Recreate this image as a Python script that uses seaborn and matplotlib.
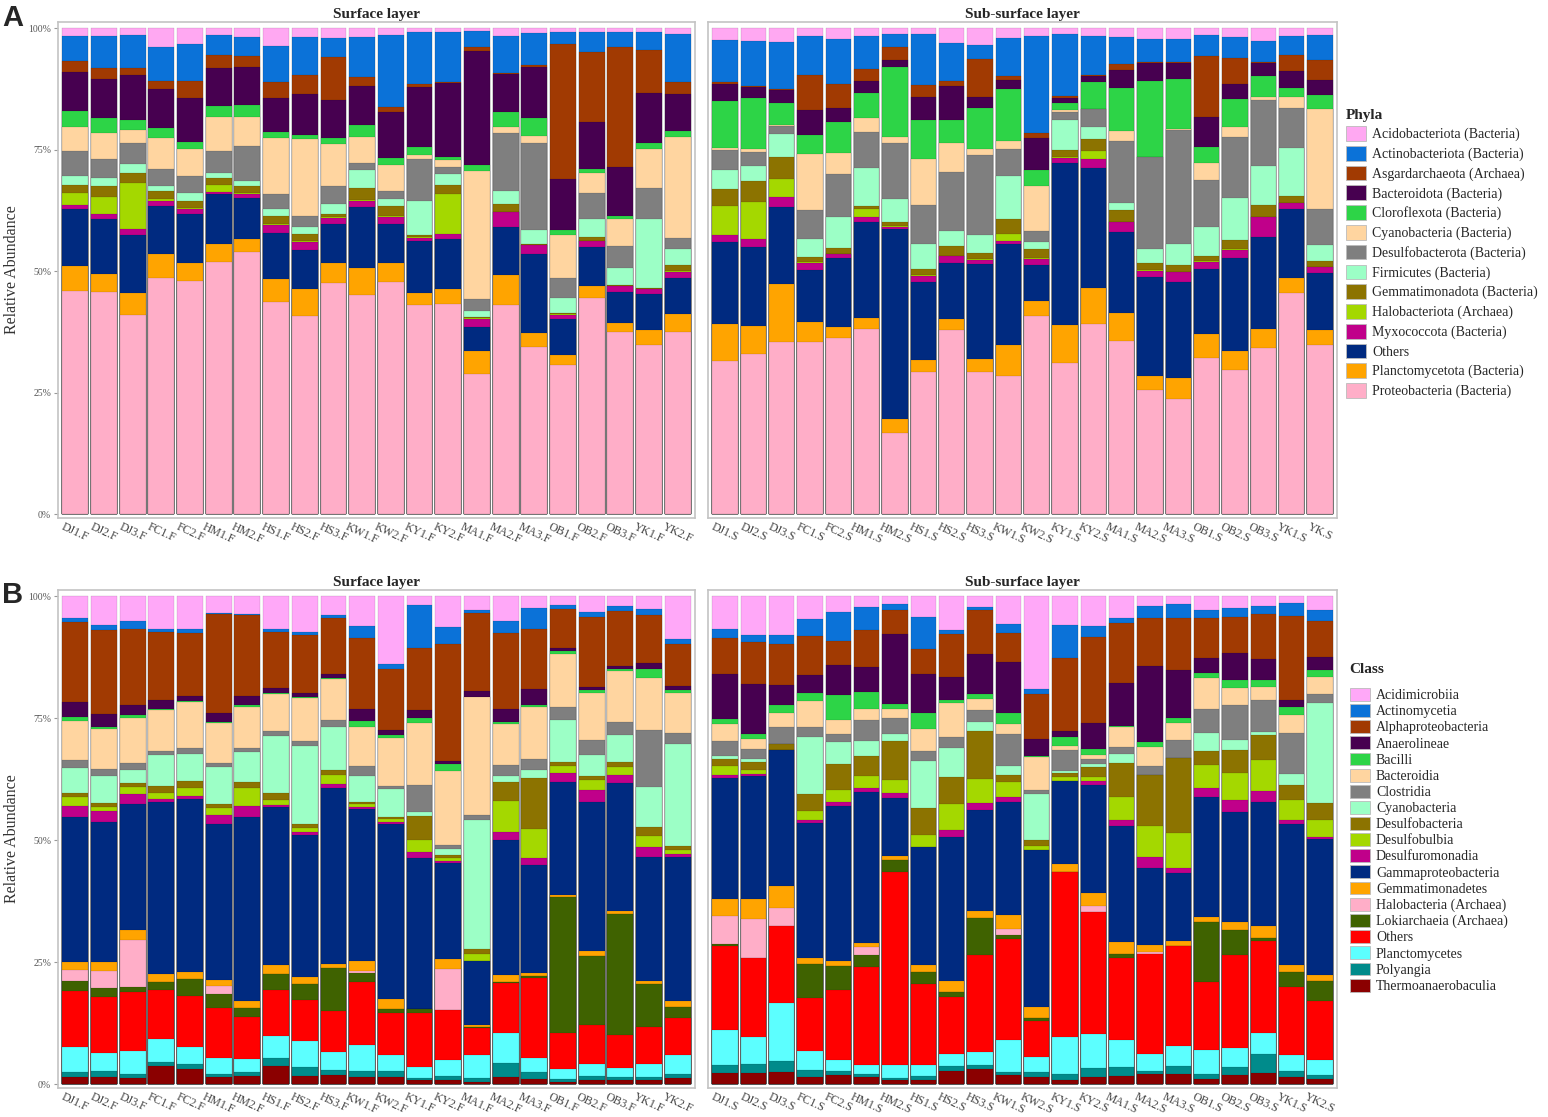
import numpy as np
import pandas as pd
import matplotlib
matplotlib.use("Agg")
import matplotlib.pyplot as plt
import seaborn as sns
from matplotlib.patches import Patch

# ---------------- labels ----------------
surface_labels = ["DJ1.F", "DJ2.F", "DJ3.F", "FC1.F", "FC2.F", "HM1.F", "HM2.F", "HS1.F", "HS2.F", "HS3.F", "KW1.F",
                  "KW2.F", "KY1.F", "KY2.F", "MA1.F", "MA2.F", "MA3.F", "OB1.F", "OB2.F", "OB3.F", "YK1.F", "YK2.F"]
subsurface_labels_A = ["DJ1.S", "DJ2.S", "DJ3.S", "FC1.S", "FC2.S", "HM1.S", "HM2.S", "HS1.S", "HS2.S", "HS3.S", "KW1.S",
                       "KW2.S", "KY1.S", "KY2.S", "MA1.S", "MA2.S", "MA3.S", "OB1.S", "OB2.S", "OB3.S", "YK1.S", "YK.S"]
subsurface_labels_B = ["DJ1.S", "DJ2.S", "DJ3.S", "FC1.S", "FC2.S", "HM1.S", "HM2.S", "HS1.S", "HS2.S", "HS3.S", "KW1.S",
                       "KW2.S", "KY1.S", "KY2.S", "MA1.S", "MA2.S", "MA3.S", "OB1.S", "OB2.S", "OB3.S", "YK1.S", "YK2.S"]

# legend order (top of stack first)
phyla = ["Acidobacteriota (Bacteria)", "Actinobacteriota (Bacteria)", "Asgardarchaeota (Archaea)",
         "Bacteroidota (Bacteria)", "Cloroflexota (Bacteria)", "Cyanobacteria (Bacteria)",
         "Desulfobacterota (Bacteria)", "Firmicutes (Bacteria)", "Gemmatimonadota (Bacteria)",
         "Halobacteriota (Archaea)", "Myxococcota (Bacteria)", "Others", "Planctomycetota (Bacteria)",
         "Proteobacteria (Bacteria)"]
phyla_colors = ["#FFA8F2", "#0B72D8", "#A13A02", "#470050", "#2DD447", "#FFD5A0", "#7F7F7F",
                "#9CFFC6", "#8C7300", "#A4D800", "#C0008A", "#002A80", "#FFA400", "#FFAEC8"]

classes = ["Acidimicrobiia", "Actinomycetia", "Alphaproteobacteria", "Anaerolineae", "Bacilli", "Bacteroidia",
           "Clostridia", "Cyanobacteria", "Desulfobacteria", "Desulfobulbia", "Desulfuromonadia",
           "Gammaproteobacteria", "Gemmatimonadetes", "Halobacteria (Archaea)", "Lokiarchaeia (Archaea)",
           "Others", "Planctomycetes", "Polyangia", "Thermoanaerobaculia"]
class_colors = ["#FFA8F8", "#0B72D8", "#A13A02", "#470050", "#2DD447", "#FFD5A0", "#7F7F7F", "#9CFFC6",
                "#8C7300", "#A4D800", "#C0008A", "#002A80", "#FFA400", "#FFAEC8", "#3F6200", "#FF0000",
                "#5CFFFF", "#008B8B", "#8B0000"]

# ---------------- data (rows = samples, values bottom -> top of stack) ----------------
phyla_surface = [
    [45.8, 5.2, 11.7, 0.9, 2.4, 1.6, 2.0, 5.0, 5.1, 3.1, 8.2, 2.2, 5.2, 1.5],
    [45.7, 3.8, 11.3, 1.0, 3.5, 2.2, 1.7, 4.0, 5.2, 3.1, 8.0, 2.3, 6.7, 1.5],
    [41.0, 4.5, 12.0, 1.1, 9.6, 2.0, 1.9, 4.3, 2.7, 2.1, 9.2, 1.4, 6.8, 1.4],
    [48.8, 5.0, 9.8, 1.1, 0.3, 1.7, 1.1, 3.4, 6.4, 2.2, 8.0, 1.7, 7.0, 3.8],
    [48.1, 3.6, 10.1, 1.2, 0.2, 1.4, 1.7, 3.4, 5.6, 1.5, 9.0, 3.6, 7.6, 3.2],
    [51.9, 3.6, 10.3, 0.6, 1.3, 1.5, 1.0, 4.5, 7.1, 2.3, 7.8, 2.6, 4.1, 1.4],
    [54.1, 2.7, 8.4, 0.9, 0.2, 1.4, 1.0, 7.3, 5.9, 2.4, 8.0, 2.1, 4.1, 1.7],
    [43.8, 4.6, 9.5, 1.7, 0.2, 1.7, 1.4, 3.2, 11.4, 1.3, 7.0, 3.4, 7.4, 3.6],
    [40.8, 5.6, 8.1, 1.7, 0.2, 1.3, 1.6, 2.2, 15.8, 0.8, 8.6, 3.8, 8.0, 1.7],
    [47.6, 4.1, 8.2, 1.1, 0.2, 0.8, 1.9, 3.8, 8.7, 1.1, 8.0, 8.7, 3.9, 2.1],
    [45.2, 5.6, 12.6, 1.1, 0.2, 2.6, 3.6, 1.6, 5.2, 2.6, 7.9, 1.9, 8.4, 1.7],
    [47.9, 3.8, 8.2, 1.4, 0.2, 2.1, 1.3, 1.7, 5.4, 1.4, 9.5, 1.0, 14.9, 1.4],
    [43.2, 2.6, 10.7, 0.7, 0.2, 0.3, 7.0, 8.7, 0.9, 1.7, 12.3, 0.7, 10.7, 0.8],
    [43.3, 3.1, 10.3, 1.0, 8.2, 1.9, 2.2, 1.4, 1.5, 0.7, 15.1, 0.3, 10.2, 0.8],
    [29.0, 4.6, 5.1, 1.6, 0.1, 0.2, 1.3, 2.6, 26.3, 1.3, 23.6, 0.8, 3.3, 0.5],
    [43.0, 6.2, 10.0, 3.0, 0.1, 1.5, 2.7, 12.0, 1.2, 3.1, 7.8, 0.3, 7.7, 1.5],
    [34.4, 2.9, 16.5, 1.7, 0.1, 0.2, 2.9, 18.0, 1.3, 3.8, 10.6, 0.4, 6.5, 1.0],
    [30.8, 2.1, 7.4, 0.9, 0.1, 0.2, 3.2, 4.1, 8.9, 1.0, 10.4, 27.9, 2.6, 0.7],
    [44.5, 2.6, 8.0, 1.1, 0.1, 0.8, 3.8, 5.3, 4.1, 0.9, 9.6, 14.4, 4.1, 0.8],
    [37.5, 1.9, 6.5, 1.2, 0.1, 0.2, 3.4, 4.6, 5.5, 0.7, 10.1, 24.8, 3.1, 0.7],
    [34.9, 3.1, 7.5, 0.9, 0.1, 0.2, 14.2, 6.4, 8.0, 1.4, 10.2, 8.9, 3.7, 0.8],
    [37.5, 3.7, 7.4, 1.3, 0.1, 1.3, 3.3, 2.3, 20.9, 1.1, 7.7, 2.4, 9.9, 1.2],
]
phyla_subsurface = [
    [31.5, 7.6, 16.9, 1.5, 6.0, 3.5, 3.9, 4.1, 0.4, 9.7, 3.4, 0.5, 8.6, 2.4],
    [33.0, 5.7, 16.2, 1.8, 7.6, 4.2, 3.2, 2.9, 0.5, 10.5, 2.4, 0.2, 9.2, 2.6],
    [35.5, 12.0, 15.8, 2.1, 3.7, 4.5, 4.7, 1.7, 0.1, 4.6, 2.7, 0.2, 9.6, 2.9],
    [35.5, 4.1, 10.8, 1.4, 0.1, 1.1, 3.6, 6.1, 11.5, 4.0, 5.1, 7.1, 8.1, 1.6],
    [36.2, 2.4, 14.2, 0.8, 0.1, 1.2, 6.4, 8.8, 4.4, 6.2, 3.0, 5.0, 9.2, 2.2],
    [38.2, 2.1, 19.9, 0.9, 1.7, 0.7, 7.7, 7.4, 2.9, 5.2, 2.5, 2.5, 6.7, 1.6],
    [16.8, 2.7, 39.2, 0.5, 0.1, 0.9, 4.7, 11.5, 1.4, 14.3, 1.5, 2.6, 2.8, 1.1],
    [29.2, 2.5, 16.2, 1.2, 0.1, 1.3, 5.1, 8.1, 9.5, 8.1, 4.6, 2.5, 10.6, 1.1],
    [37.9, 2.4, 11.5, 1.3, 0.1, 2.0, 3.1, 12.2, 5.9, 4.9, 6.9, 1.1, 7.7, 3.1],
    [29.2, 2.7, 19.7, 0.8, 0.1, 1.4, 3.7, 16.4, 1.3, 8.4, 2.2, 7.9, 2.9, 3.4],
    [28.4, 6.4, 20.7, 0.8, 1.3, 3.2, 8.8, 5.5, 1.7, 10.8, 1.7, 0.8, 7.9, 2.0],
    [40.9, 3.1, 7.4, 1.2, 0.1, 1.9, 1.5, 2.3, 9.2, 3.4, 6.6, 1.0, 19.9, 1.6],
    [31.1, 7.8, 33.4, 1.1, 0.1, 1.6, 6.2, 1.5, 0.5, 1.5, 0.9, 0.5, 12.7, 1.2],
    [39.2, 7.3, 24.9, 1.7, 1.7, 2.5, 2.5, 3.6, 0.1, 5.6, 1.1, 0.2, 8.1, 1.6],
    [35.7, 5.7, 16.8, 1.9, 0.1, 2.5, 1.5, 12.7, 2.0, 8.8, 3.9, 1.1, 5.6, 1.8],
    [25.6, 3.0, 20.3, 1.3, 0.1, 1.6, 2.9, 18.9, 0.1, 15.7, 3.7, 0.1, 4.8, 2.2],
    [23.8, 4.3, 19.9, 1.9, 0.1, 1.4, 4.3, 23.7, 0.1, 10.3, 3.4, 0.1, 4.8, 2.2],
    [32.1, 5.0, 13.5, 1.4, 0.1, 1.1, 5.9, 9.7, 3.6, 3.3, 6.1, 12.5, 4.4, 1.4],
    [29.6, 4.1, 19.1, 1.7, 0.1, 1.8, 8.8, 12.6, 2.0, 5.7, 3.2, 5.3, 4.3, 1.8],
    [34.2, 4.0, 19.0, 4.0, 0.1, 2.4, 8.0, 13.7, 0.5, 4.3, 2.7, 0.2, 4.4, 2.6],
    [45.5, 3.2, 14.1, 1.3, 0.1, 1.4, 9.9, 8.2, 2.2, 1.8, 3.6, 3.2, 4.0, 1.6],
    [34.8, 3.2, 11.7, 1.2, 0.1, 1.1, 3.3, 7.5, 20.6, 2.9, 3.0, 4.2, 5.1, 1.4],
]
class_surface = [
    [1.4, 1.0, 5.2, 11.5, 2.0, 2.2, 1.8, 29.6, 2.3, 1.8, 0.8, 5.3, 1.6, 8.0, 0.7, 3.1, 16.5, 0.8, 4.4],
    [1.4, 1.2, 3.7, 11.5, 1.9, 3.4, 2.0, 28.6, 2.2, 1.0, 0.7, 5.6, 1.4, 8.1, 0.5, 2.7, 17.3, 0.9, 5.9],
    [1.2, 0.8, 4.7, 12.1, 1.2, 9.5, 2.2, 25.8, 2.0, 1.4, 0.8, 2.7, 1.4, 9.4, 0.6, 1.9, 15.6, 1.7, 5.1],
    [3.7, 0.9, 4.7, 10.0, 1.6, 0.0, 1.6, 35.3, 0.7, 1.2, 1.4, 6.4, 0.9, 8.4, 0.2, 1.8, 14.0, 0.5, 6.8],
    [3.1, 1.0, 3.5, 10.4, 3.6, 0.0, 1.5, 35.4, 0.7, 1.6, 1.4, 5.6, 1.2, 9.5, 0.3, 1.0, 12.9, 0.7, 6.8],
    [1.5, 0.5, 3.4, 10.3, 2.7, 1.8, 1.2, 31.9, 1.8, 1.6, 0.7, 7.7, 0.8, 8.1, 0.3, 1.7, 20.3, 0.3, 3.4],
    [1.7, 0.7, 2.7, 8.6, 1.9, 0.0, 1.5, 37.7, 2.3, 3.6, 1.4, 6.1, 0.7, 8.5, 0.3, 2.0, 16.5, 0.3, 3.6],
    [3.7, 1.7, 4.4, 9.5, 3.2, 0.0, 1.9, 32.4, 0.5, 1.0, 1.4, 11.7, 1.1, 7.6, 0.1, 1.1, 11.5, 0.7, 6.6],
    [1.7, 1.8, 5.4, 8.3, 3.4, 0.0, 1.4, 29.2, 0.5, 0.9, 0.9, 15.9, 1.1, 8.8, 0.3, 0.7, 11.9, 0.7, 7.3],
    [1.9, 0.9, 3.8, 8.4, 8.7, 0.0, 0.8, 36.1, 0.9, 1.8, 1.0, 8.8, 1.5, 8.3, 0.2, 0.8, 11.5, 0.5, 3.9],
    [1.5, 1.1, 5.4, 13.0, 1.7, 0.5, 2.0, 31.2, 0.4, 0.5, 0.5, 5.3, 2.0, 8.1, 1.2, 2.5, 14.4, 2.5, 6.1],
    [1.5, 1.1, 3.4, 8.6, 0.9, 0.0, 2.0, 35.9, 0.3, 0.7, 0.5, 5.6, 0.7, 9.9, 0.5, 1.0, 12.5, 1.2, 13.8],
    [0.8, 0.5, 2.2, 11.1, 0.7, 0.0, 0.0, 31.0, 1.2, 2.4, 4.9, 0.9, 5.6, 12.5, 1.2, 1.5, 12.7, 8.9, 1.7],
    [0.8, 0.9, 3.2, 10.4, 0.0, 8.3, 2.0, 19.7, 0.5, 0.7, 0.5, 1.2, 0.8, 15.3, 1.4, 0.7, 23.9, 3.5, 6.3],
    [0.5, 0.8, 4.7, 5.4, 0.3, 0.0, 0.5, 13.1, 0.0, 1.4, 0.9, 26.6, 1.0, 24.1, 0.0, 1.2, 16.1, 0.7, 2.7],
    [1.5, 2.9, 6.1, 10.2, 0.3, 0.0, 1.4, 27.7, 1.6, 6.5, 3.9, 1.2, 2.2, 8.5, 0.3, 2.7, 15.6, 2.4, 5.1],
    [1.0, 1.4, 2.9, 16.5, 0.4, 0.0, 0.5, 22.2, 1.6, 5.9, 10.4, 1.6, 2.3, 10.7, 0.3, 3.4, 12.4, 4.2, 2.4],
    [0.5, 0.5, 2.2, 7.3, 27.8, 0.0, 0.5, 23.1, 1.9, 1.4, 0.8, 8.8, 2.6, 10.8, 0.7, 0.7, 7.8, 1.0, 1.7],
    [0.8, 0.9, 2.4, 8.1, 14.1, 0.0, 0.9, 30.7, 2.4, 2.0, 0.8, 4.3, 3.1, 9.6, 0.7, 0.7, 14.2, 1.1, 3.2],
    [0.8, 0.7, 1.9, 6.6, 24.9, 0.0, 0.5, 26.3, 1.7, 1.7, 1.0, 5.4, 2.7, 10.4, 0.5, 0.7, 11.2, 1.0, 2.0],
    [0.8, 0.7, 2.7, 7.5, 8.8, 0.0, 0.7, 25.5, 2.0, 2.3, 1.8, 8.1, 11.8, 10.6, 1.8, 1.4, 9.7, 1.4, 2.5],
    [1.2, 0.9, 3.8, 7.7, 2.2, 0.0, 1.2, 29.6, 0.5, 0.9, 0.8, 20.9, 2.3, 8.1, 0.7, 0.9, 8.6, 0.9, 8.8],
]
class_subsurface = [
    [2.2, 1.7, 7.2, 17.3, 0.3, 5.8, 3.5, 24.9, 0.5, 2.0, 1.4, 0.7, 2.9, 3.6, 0.9, 9.3, 7.4, 1.8, 6.8],
    [2.3, 1.8, 5.5, 16.2, 0.0, 8.0, 4.2, 25.1, 0.4, 0.9, 1.6, 0.7, 2.0, 2.0, 1.0, 10.3, 8.6, 1.4, 8.0],
    [2.5, 2.2, 12.0, 15.7, 0.0, 3.6, 4.6, 27.8, 0.0, 0.0, 1.2, 0.0, 3.5, 2.9, 1.6, 4.2, 8.4, 1.7, 8.0],
    [1.4, 1.4, 4.1, 10.8, 7.0, 0.0, 1.2, 27.7, 0.7, 1.9, 3.4, 11.8, 1.9, 5.3, 1.8, 3.6, 8.1, 3.5, 4.6],
    [1.8, 0.9, 2.3, 14.2, 4.9, 0.0, 1.1, 31.8, 0.7, 2.4, 5.4, 4.5, 1.7, 2.8, 5.1, 6.1, 5.0, 5.9, 3.2],
    [1.4, 0.7, 1.8, 20.1, 2.6, 1.5, 0.9, 31.1, 0.7, 2.5, 4.1, 3.1, 4.2, 2.4, 3.4, 5.2, 7.6, 4.7, 2.2],
    [0.8, 0.5, 2.7, 39.3, 2.6, 0.0, 0.8, 11.8, 1.1, 2.7, 7.8, 1.5, 3.4, 1.7, 1.1, 14.2, 5.1, 1.1, 1.6],
    [0.8, 0.8, 2.4, 16.5, 2.4, 0.0, 1.5, 24.3, 0.0, 2.4, 5.6, 9.6, 1.9, 4.5, 3.4, 7.9, 5.3, 6.4, 4.3],
    [2.7, 1.1, 2.4, 11.6, 1.2, 0.0, 2.2, 29.5, 1.6, 5.3, 5.4, 6.1, 2.2, 7.0, 0.7, 4.7, 8.8, 0.7, 7.0],
    [3.2, 0.7, 2.7, 19.8, 7.6, 0.0, 1.5, 20.8, 1.4, 4.9, 9.9, 1.8, 2.5, 2.2, 1.1, 8.1, 9.0, 0.7, 2.2],
    [1.8, 0.7, 6.6, 20.7, 0.8, 1.2, 3.0, 23.0, 1.1, 3.0, 1.6, 1.8, 6.6, 1.9, 2.3, 10.5, 5.9, 2.0, 5.6],
    [1.5, 1.0, 3.0, 7.4, 0.7, 0.0, 2.2, 32.2, 0.0, 0.9, 1.1, 9.5, 0.8, 6.8, 0.3, 3.4, 9.3, 0.9, 19.1],
    [0.9, 1.2, 7.6, 33.8, 0.0, 0.0, 1.6, 17.1, 0.0, 0.8, 0.7, 0.5, 4.2, 1.0, 1.8, 1.2, 14.9, 6.8, 5.9],
    [1.4, 1.8, 7.1, 25.0, 0.0, 1.2, 2.7, 22.1, 0.7, 1.0, 2.0, 0.5, 1.1, 0.9, 1.1, 5.4, 17.6, 2.2, 6.1],
    [1.6, 1.9, 5.5, 16.8, 0.8, 0.0, 2.6, 23.8, 1.2, 4.7, 6.9, 1.9, 1.4, 4.2, 0.2, 8.8, 12.4, 0.9, 4.5],
    [2.0, 0.7, 3.4, 20.5, 0.0, 0.4, 1.5, 15.7, 2.2, 6.4, 10.5, 0.0, 1.7, 3.9, 1.1, 15.5, 9.9, 2.4, 2.0],
    [2.0, 1.8, 4.1, 20.3, 0.0, 0.0, 1.1, 13.9, 1.1, 7.1, 15.4, 0.0, 3.6, 3.6, 0.9, 9.9, 10.6, 2.9, 1.6],
    [1.1, 1.0, 4.9, 13.9, 12.2, 0.0, 1.1, 24.5, 2.0, 4.7, 2.8, 3.7, 4.9, 6.4, 1.1, 3.0, 8.1, 1.8, 2.7],
    [1.8, 1.7, 3.9, 19.1, 5.1, 0.0, 1.7, 22.4, 2.4, 5.7, 4.6, 2.0, 7.3, 3.5, 1.5, 5.6, 7.4, 1.8, 2.4],
    [2.3, 3.9, 4.2, 18.9, 0.7, 0.0, 2.4, 25.5, 2.4, 6.2, 5.3, 0.5, 6.6, 2.7, 1.4, 4.3, 9.3, 1.6, 2.0],
    [1.5, 1.2, 3.2, 14.0, 3.1, 0.0, 1.5, 28.9, 0.8, 4.1, 3.0, 2.4, 8.4, 3.6, 1.6, 1.6, 17.1, 2.7, 1.4],
    [1.1, 0.7, 3.2, 12.0, 4.2, 0.0, 1.1, 28.0, 0.4, 3.5, 3.4, 20.6, 1.8, 3.4, 1.4, 2.7, 7.4, 2.4, 2.7],
]

# ---------------- style ----------------
sns.set_style("white")
plt.rcParams["font.family"] = ["Liberation Serif", "DejaVu Serif"]

W, H = 1548, 1117
fig = plt.figure(figsize=(W / 100, H / 100), dpi=100)


def px_axes(x0, y0, x1, y1):
    return fig.add_axes([x0 / W, 1 - y1 / H, (x1 - x0) / W, (y1 - y0) / H])


def draw_panel(ax, rows, labels, legend_taxa, colors, title, show_y):
    taxa_bottom_up = legend_taxa[::-1]
    cols_bottom_up = colors[::-1]
    df = pd.DataFrame(rows, columns=taxa_bottom_up)
    df = df.div(df.sum(axis=1), axis=0) * 100.0  # relative abundance
    cum = df.cumsum(axis=1)
    cum["sample"] = labels
    # draw from the top of the stack down so lower segments overlay higher totals
    for taxon, col in zip(taxa_bottom_up[::-1], cols_bottom_up[::-1]):
        sns.barplot(data=cum, x="sample", y=taxon, order=labels, color=col, saturation=1,
                    width=0.9, errorbar=None, ax=ax, linewidth=0.3, edgecolor=(0, 0, 0, 0.25))
    ax.set_xlim(-0.6, len(labels) - 0.4)
    ax.set_ylim(-0.8, 101.3)
    ax.set_xlabel("")
    ax.set_xticks(range(len(labels)))
    ax.set_xticklabels(labels, rotation=-25, ha="center", va="top", fontsize=8.5, color="#444444")
    ax.tick_params(axis="x", length=0, pad=2)
    for sp in ax.spines.values():
        sp.set_color("#C4C4C4")
        sp.set_linewidth(1.2)
    ax.set_title(title, fontweight="bold", fontsize=11, pad=3)
    if show_y:
        ax.set_yticks([0, 25, 50, 75, 100])
        ax.set_yticklabels(["0%", "25%", "50%", "75%", "100%"], fontsize=7, color="#555555")
        ax.tick_params(axis="y", length=3, width=0.8, color="#999999", pad=2, left=True)
        ax.set_ylabel("Relative Abundance", fontsize=11.5, color="#333333", labelpad=6)
    else:
        ax.set_yticks([])
        ax.set_ylabel("")


axA1 = px_axes(58, 22, 695, 518)
axA2 = px_axes(708, 22, 1337, 518)
axB1 = px_axes(58, 590, 695, 1088)
axB2 = px_axes(708, 590, 1337, 1088)

draw_panel(axA1, phyla_surface, surface_labels, phyla, phyla_colors, "Surface layer", True)
draw_panel(axA2, phyla_subsurface, subsurface_labels_A, phyla, phyla_colors, "Sub-surface layer", False)
draw_panel(axB1, class_surface, surface_labels, classes, class_colors, "Surface layer", True)
draw_panel(axB2, class_subsurface, subsurface_labels_B, classes, class_colors, "Sub-surface layer", False)

# legends
hA = [Patch(facecolor=c, edgecolor="#BBBBBB", linewidth=0.6) for c in phyla_colors]
legA = fig.legend(hA, phyla, loc="upper left", bbox_to_anchor=(1340 / W, 1 - 103 / H), frameon=False,
                  title="Phyla", fontsize=10, handlelength=1.45, handleheight=1.25, labelspacing=0.33,
                  handletextpad=0.45, alignment="left", borderaxespad=0)
legA.get_title().set_fontweight("bold")
legA.get_title().set_fontsize(11)

hB = [Patch(facecolor=c, edgecolor="#BBBBBB", linewidth=0.6) for c in class_colors]
legB = fig.legend(hB, classes, loc="upper left", bbox_to_anchor=(1344 / W, 1 - 657 / H), frameon=False,
                  title="Class", fontsize=10, handlelength=1.45, handleheight=1.05, labelspacing=0.14,
                  handletextpad=0.45, alignment="left", borderaxespad=0)
legB.get_title().set_fontweight("bold")
legB.get_title().set_fontsize(11)
legB._legend_box.sep = 9

fig.text(2 / W, 1 - 18 / H, "A", fontsize=21, fontweight="bold", family="Liberation Sans", va="center")
fig.text(2 / W, 1 - 595 / H, "B", fontsize=21, fontweight="bold", family="Liberation Sans", va="center")

fig.savefig("out.png", dpi=100)
